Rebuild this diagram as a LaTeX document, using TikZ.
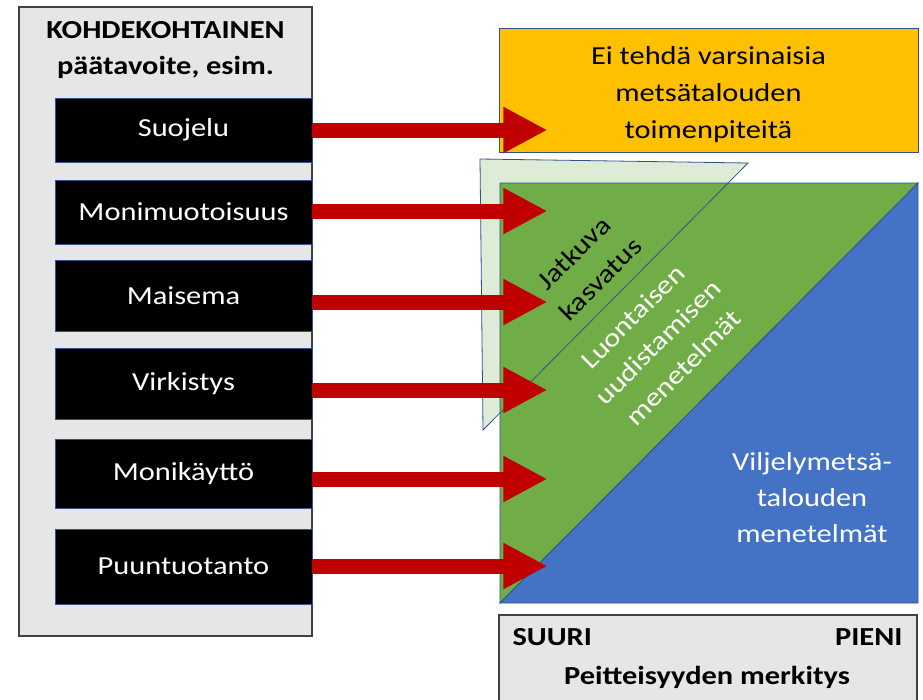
\documentclass[tikz,border=0pt]{standalone}
\usepackage{fontspec}
\setmainfont{Carlito}[FakeStretch=1.17]
\usetikzlibrary{arrows.meta,calc}
\definecolor{panelgray}{HTML}{E7E6E6}
\definecolor{panelline}{HTML}{404040}
\definecolor{boxline}{HTML}{2F528F}
\definecolor{arrowred}{HTML}{C00000}
\definecolor{orangefill}{HTML}{FFC000}
\definecolor{greenfill}{HTML}{70AD47}
\definecolor{bluefill}{HTML}{4472C4}
\definecolor{palegreen}{HTML}{DEEBD7}
\newcommand{\bodysize}{\fontsize{26}{37}\selectfont}

\begin{document}
\begin{tikzpicture}[x=1pt,y=-1pt,line join=miter,
    panel/.style={draw=panelline,fill=panelgray,line width=1.5pt},
    goalbox/.style={draw=boxline,fill=black,text=white,line width=0.8pt,
      minimum width=257pt,inner sep=0pt,font=\bodysize},
    edgeline/.style={draw=boxline,line width=0.8pt},
    bigarrow/.style={draw=arrowred,line width=15pt,-{Triangle[length=44pt,width=43pt]}}]
    \useasboundingbox (0,0) rectangle (923,699);
    % left panel
    \draw[panel] (19,7) rectangle (312,636);
    \node[font=\fontsize{26}{36}\selectfont\bfseries,align=center] (title) at (165.5,50) {KOHDEKOHTAINEN\\päätavoite, esim.};
    \node[goalbox,minimum height=64pt] (suojelu) at (183.5,130) {Suojelu};
    \node[goalbox,minimum height=64pt] (monim) at (183.5,212) {Monimuotoisuus};
    \node[goalbox,minimum height=71pt] (maisema) at (183.5,295.5) {Maisema};
    \node[goalbox,minimum height=71pt] (virkistys) at (183.5,383.5) {Virkistys};
    \node[goalbox,minimum height=69pt] (monik) at (183.5,473.5) {Monikäyttö};
    \node[goalbox,minimum height=75pt] (puun) at (183.5,566.5) {Puuntuotanto};
    % orange box
    \filldraw[edgeline,fill=orangefill] (499,28) rectangle (918,152);
    \node[align=center,font=\bodysize] (ei) at (708.5,95) {Ei tehdä varsinaisia\\metsätalouden\\toimenpiteitä};
    % triangles
    \fill[palegreen] (480,159) -- (748,163) -- (483,430) -- cycle;
    \filldraw[edgeline,fill=greenfill] (500,183) -- (918,183) -- (500,603) -- cycle;
    \filldraw[edgeline,fill=bluefill] (918,183) -- (918,603) -- (500,603) -- cycle;
    \draw[edgeline] (480,159) -- (748,163) -- (483,430) -- cycle;
    \node[font=\bodysize,rotate=45,align=center] (jatkuva) at (587,266) {Jatkuva\\kasvatus};
    \node[font=\fontsize{26}{36}\selectfont,text=white,rotate=45,align=center] (luont) at (658,342) {Luontaisen\\uudistamisen\\menetelmät};
    \node[font=\fontsize{26}{36}\selectfont,text=white,align=center] (viljely) at (812,498) {Viljelymetsä-\\talouden\\menetelmät};
    % arrows
    \foreach \goal/\dy in {suojelu/0,monim/-1,maisema/6.5,virkistys/6.5,monik/5.5,puun/-0.5}
        \draw[bigarrow] ($(\goal.east)+(0,\dy)$) -- ($(\goal.east)+(235,\dy)$);
    % bottom box
    \draw[panel] (499,615) rectangle (917,705);
    \node[font=\bodysize\bfseries,anchor=west] (suuri) at (509,637) {SUURI};
    \node[font=\bodysize\bfseries,anchor=east] (pieni) at (906,637) {PIENI};
    \node[font=\bodysize\bfseries] (peitt) at (707,677) {Peitteisyyden merkitys};
\end{tikzpicture}
\end{document}
